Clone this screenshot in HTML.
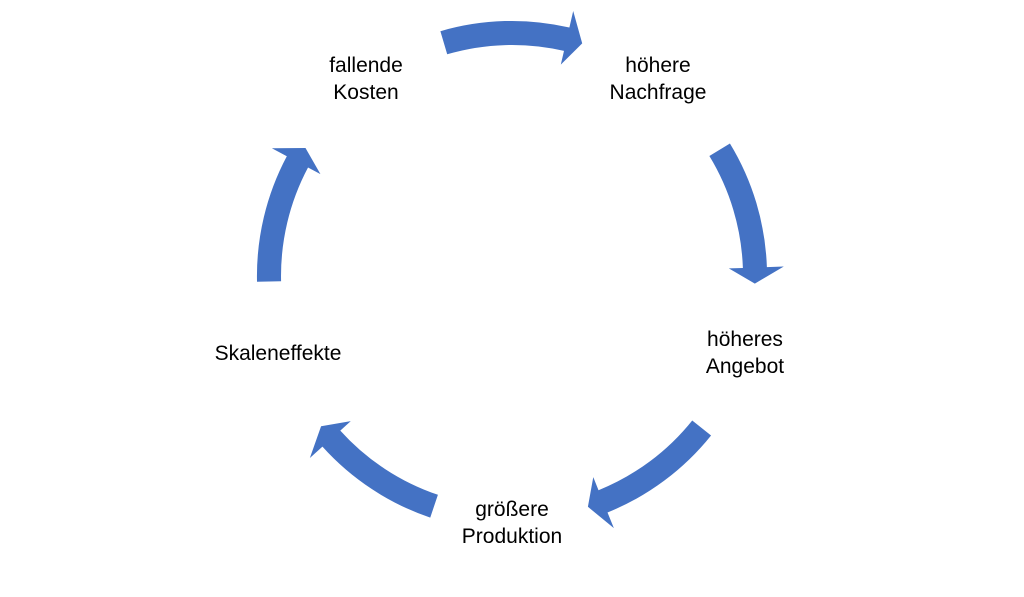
<!DOCTYPE html>
<html><head><style>
body{margin:0;width:1024px;height:597px;background:#fff;overflow:hidden;position:relative;font-family:"Liberation Sans",sans-serif}
.t{position:absolute;font-size:21px;line-height:27px;color:#000;text-align:center;width:200px}
</style></head><body>
<svg width="1024" height="597" style="position:absolute;left:0;top:0">
<defs><path id="a" fill="#4472C4" d="M440.4,31.2 A255,255 0 0,1 569.4,27.5 L573.2,11.0 L582.2,43.4 L560.8,64.6 L564.0,50.9 A231,231 0 0,0 447.2,54.3 Z"/></defs>
<use href="#a"/>
<use href="#a" transform="rotate(75 512 276)"/>
<use href="#a" transform="rotate(145 512 276)"/>
<use href="#a" transform="rotate(215 512 276)"/>
<use href="#a" transform="rotate(285 512 276)"/>
</svg>
<div class="t" style="left:266px;top:52px">fallende<br>Kosten</div>
<div class="t" style="left:558px;top:52px">höhere<br>Nachfrage</div>
<div class="t" style="left:645px;top:326px">höheres<br>Angebot</div>
<div class="t" style="left:412px;top:496px">größere<br>Produktion</div>
<div class="t" style="left:178px;top:340px">Skaleneffekte</div>
</body></html>
